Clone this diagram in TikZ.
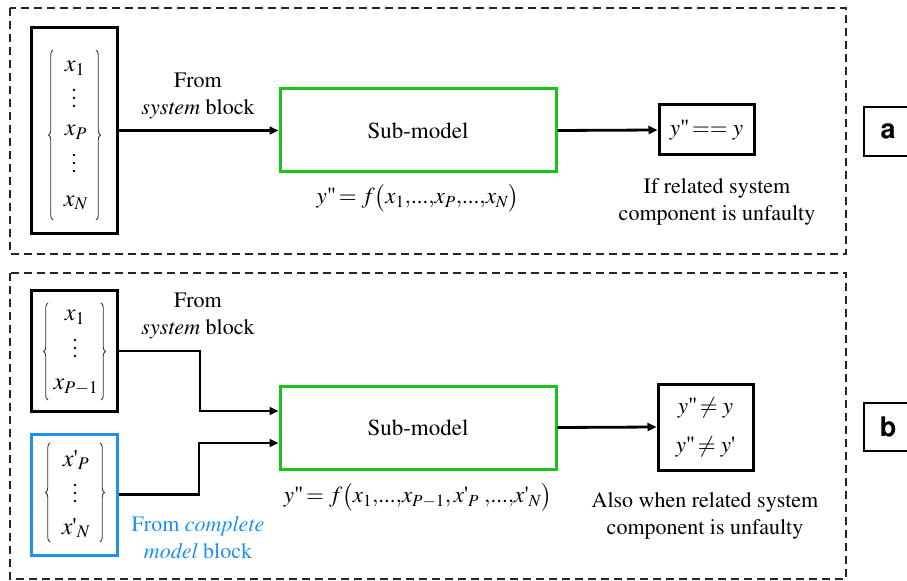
\documentclass[tikz,border=0pt]{standalone}
\usepackage[T1]{fontenc}
\usepackage{mathptmx}
\usepackage{helvet}
\usepackage{graphicx}
\usetikzlibrary{arrows.meta,decorations.pathreplacing}

\definecolor{subgreen}{RGB}{24,196,24}
\definecolor{srcblue}{RGB}{30,144,240}

% straight quote marks and compact lists used in the formulas
\newcommand{\dq}{\textrm{\textquotedbl}}
\newcommand{\sq}{\textrm{\textquotesingle}}
\newcommand{\cd}{{,}\textrm{...}{,}}

\tikzset{
  txt/.style={font=\fontsize{22bp}{27bp}\selectfont, align=center, inner sep=0pt},
  eqn/.style={font=\fontsize{23bp}{27bp}\selectfont, inner sep=0pt},
  vec/.style={font=\fontsize{24bp}{28bp}\selectfont, inner sep=0pt},
  inbox/.style={draw=black, line width=3bp, inner sep=0pt},
  srcbox/.style={draw=srcblue, line width=3bp, inner sep=0pt},
  subbox/.style={draw=subgreen, line width=3bp, inner sep=0pt, font=\fontsize{23bp}{27bp}\selectfont},
  outbox/.style={draw=black, line width=3bp, inner sep=0pt, font=\fontsize{23bp}{39bp}\selectfont, align=center},
  tagbox/.style={draw=black, line width=2bp},
  tagtxt/.style={font=\sffamily\bfseries\fontsize{27bp}{30bp}\selectfont, inner sep=0pt},
  frame/.style={draw=black!85, line width=1.6bp, dash pattern=on 8bp off 5bp},
  arr/.style={draw=black, line width=2.8bp, -{Triangle[length=9bp,width=8bp]}},
  brc/.style={draw=black!80, line width=0.9bp, decorate, decoration={brace, amplitude=4.5bp}},
  vdot/.style={fill=black, circle, inner sep=0pt, minimum size=2.6bp},
}

\begin{document}
\begin{tikzpicture}[x=1bp, y=-1bp]
\useasboundingbox (0,0) rectangle (907,581);
\clip (0,0) rectangle (907,581);

% ---------------- panel a ----------------
\draw[frame] (10,8) rectangle (846,254);

\node[inbox, minimum width=85bp, minimum height=205bp] (inA) at (74.5,130.5) {};
\node[vec] (a1) at (75,68) {$x_1$};
\foreach \yd in {90,98,106,155,163,171} \node[vdot] at (74,\yd) {};
\node[vec] (a3) at (76,132) {$x_P$};
\node[vec] (a5) at (76,203) {$x_N$};
\draw[brc] (53,220) -- (53,50);
\draw[brc] (96,50) -- (96,220);

\node[txt] (fromA) at (198,96) {From\\\textit{system} block};

\node[subbox, minimum width=276bp, minimum height=83bp] (subA) at (418,130.5) {Sub-model};
\node[eqn] (fA) at (418,198) {$y\dq\!= f\bigl(x_1\cd x_P\cd x_N\bigr)$};

\node[outbox, minimum width=95bp, minimum height=50bp] (outA) at (706.5,130) {$y\dq\!== y$};
\node[txt] (noteA) at (717,202) {If related system\\component is unfaulty};

\draw[arr] (inA.east) -- (subA.west);
\draw[arr] (subA.east) -- (outA.west);

\node[tagbox, minimum width=60bp, minimum height=49bp, anchor=west] (tagA) at (863,131.5) {};
\node[tagtxt] (tagAt) at (888,131) {a};

% ---------------- panel b ----------------
\draw[frame] (10,273) rectangle (846,579);

\node[inbox, minimum width=85bp, minimum height=120bp] (inB) at (74.5,351) {};
\node[vec] (b1) at (75,317) {$x_1$};
\foreach \yd in {340,348,356} \node[vdot] at (75,\yd) {};
\node[vec] (b3) at (76,387) {$x_{P-1}$};
\draw[brc] (48,400) -- (48,303);
\draw[brc] (101,303) -- (101,400);

\node[srcbox, minimum width=85bp, minimum height=121bp] (srcB) at (74.5,494.5) {};
\node[vec] (c1) at (76,460) {$x\sq_P$};
\foreach \yd in {485,493,501} \node[vdot] at (75,\yd) {};
\node[vec] (c3) at (76,528) {$x\sq_N$};
\draw[brc] (50,542) -- (50,443);
\draw[brc] (100,443) -- (100,542);

\node[txt] (fromB) at (198,316) {From\\\textit{system} block};
\node[txt, text=srcblue] (fromC) at (198,538) {From \textit{complete}\\\textit{model} block};

\node[subbox, minimum width=276bp, minimum height=83bp] (subB) at (418,427.5) {Sub-model};
\node[eqn] (fB) at (418,497) {$y\dq\!= f\bigl(x_1\cd x_{P-1}{,}\,x\sq_P\;\cd x\sq_N\bigr)$};

\node[outbox, minimum width=95bp, minimum height=86bp] (outB) at (705.5,427) {$y\dq\!\neq y$\\$y\dq\!\neq y\sq$};
\node[txt] (noteB) at (705,516) {Also when related system\\component is unfaulty};

\coordinate (j1) at (200,411);
\coordinate (j2) at (199,443);
\draw[arr] (inB.east) -| (j1) -- (j1 -| subB.west);
\draw[arr] (srcB.east) -| (j2) -- (j2 -| subB.west);
\draw[arr] (subB.east) -- (outB.west);

\node[tagbox, minimum width=60bp, minimum height=48bp, anchor=west] (tagB) at (863,427) {};
\node[tagtxt] (tagBt) at (888,427) {b};
\end{tikzpicture}
\end{document}
